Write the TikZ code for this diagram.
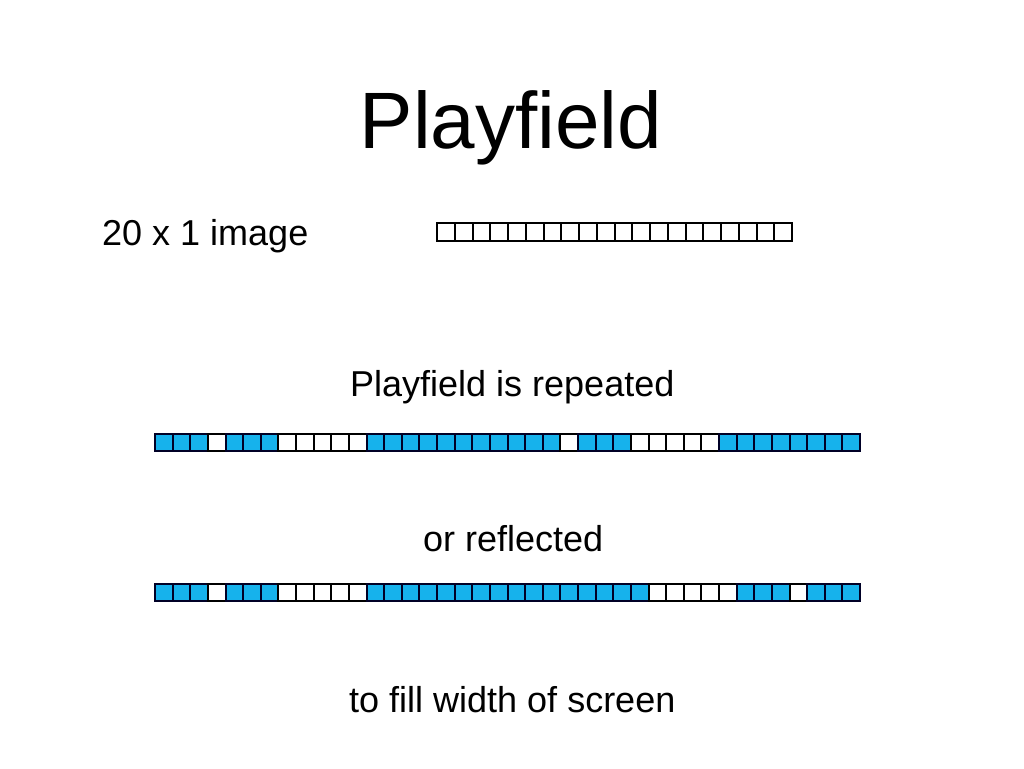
\documentclass[tikz,border=0pt]{standalone}
\usepackage{fontspec}
\setmainfont{Liberation Sans}
\definecolor{pfblue}{RGB}{22,178,236}
\tikzset{
  cellw/.style={draw=black,line width=2pt,fill=white},
  cellb/.style={draw=black!85!blue,line width=2pt,fill=pfblue},
  lbl/.style={inner sep=0pt,anchor=base west,font=\fontsize{36}{42}\selectfont}
}
\begin{document}
\begin{tikzpicture}[x=1pt,y=-1pt]
\useasboundingbox[fill=white] (0,0) rectangle (1024,768);
% title
\node[inner sep=0pt,anchor=base,font=\fontsize{80}{90}\selectfont] (title) at (511,148) {Playfield};
\node[lbl] (img) at (102,245) {20 x 1 image};
\node[lbl] (rep) at (350,396) {Playfield is repeated};
\node[lbl] (ref) at (423,551) {or reflected};
\node[lbl] (fill) at (349,712) {to fill width of screen};
% 20 x 1 image
\foreach \i in {0,...,19}{
  \draw[cellw] ({437+\i*17.75},223) rectangle ++(17.75,18);
}
% repeated
\foreach \v [count=\i from 0] in {1,1,1,0,1,1,1,0,0,0,0,0,1,1,1,1,1,1,1,1,1,1,1,0,1,1,1,0,0,0,0,0,1,1,1,1,1,1,1,1}{
  \ifnum\v=1 \draw[cellb] ({155+\i*17.625},434) rectangle ++(17.625,17);
  \else \draw[cellw] ({155+\i*17.625},434) rectangle ++(17.625,17); \fi
}
% reflected
\foreach \v [count=\i from 0] in {1,1,1,0,1,1,1,0,0,0,0,0,1,1,1,1,1,1,1,1,1,1,1,1,1,1,1,1,0,0,0,0,0,1,1,1,0,1,1,1}{
  \ifnum\v=1 \draw[cellb] ({155+\i*17.625},584) rectangle ++(17.625,17);
  \else \draw[cellw] ({155+\i*17.625},584) rectangle ++(17.625,17); \fi
}
\end{tikzpicture}
\end{document}
